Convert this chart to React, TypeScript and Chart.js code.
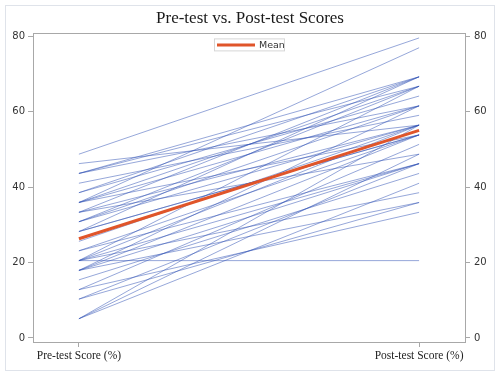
import React, { useEffect, useRef } from "react";
import { Chart, registerables } from "chart.js";

Chart.register(...registerables);

const chartTitle = "Pre-test vs. Post-test Scores";
const xLabels = ["Pre-test Score (%)", "Post-test Score (%)"];
const yTicks = [0, 20, 40, 60, 80];

const preScores = [
  48.7, 46.2, 43.6, 43.6, 43.6, 41.0, 38.5, 38.5, 35.9, 35.9, 35.9, 35.9,
  33.3, 33.3, 33.3, 30.8, 30.8, 30.8, 28.2, 28.2, 28.2, 25.6, 23.1, 23.1,
  20.5, 20.5, 20.5, 20.5, 20.5, 17.9, 17.9, 17.9, 17.9, 15.4, 12.8, 12.8,
  10.3, 10.3, 5.1, 5.1, 5.1,
];
const postScores = [
  79.5, 56.4, 69.2, 66.7, 61.5, 59.0, 69.2, 64.1, 76.9, 66.7, 61.5, 53.8,
  69.2, 56.4, 48.7, 66.7, 61.5, 56.4, 69.2, 53.8, 53.8, 56.4, 53.8, 46.2,
  20.5, 66.7, 56.4, 46.2, 38.5, 61.5, 53.8, 46.2, 35.9, 43.6, 51.3, 33.3,
  46.2, 35.9, 56.4, 48.7, 41.0,
];
const meanValues = [26.3, 55.0];

const frameAndLegend = {
  id: "frameAndLegend",
  beforeDraw(chart: any) {
    const ctx = chart.ctx;
    ctx.save();
    ctx.fillStyle = "#ffffff";
    ctx.fillRect(0, 0, chart.width, chart.height);
    ctx.strokeStyle = "#dfe3ea";
    ctx.lineWidth = 1;
    ctx.strokeRect(5.5, 5.5, 489, 365);
    ctx.restore();
  },
  afterDraw(chart: any) {
    const ctx = chart.ctx;
    const a = chart.chartArea;
    ctx.save();
    ctx.strokeStyle = "#a8a8a8";
    ctx.lineWidth = 1;
    ctx.strokeRect(Math.round(a.left) + 0.5, Math.round(a.top) + 0.5, Math.round(a.right - a.left), Math.round(a.bottom - a.top));
    const cx = (a.left + a.right) / 2;
    const bx = cx - 35;
    const by = a.top + 5;
    ctx.fillStyle = "#ffffff";
    ctx.fillRect(bx, by, 70, 12);
    ctx.strokeStyle = "#d6d6d6";
    ctx.strokeRect(bx + 0.5, by + 0.5, 70, 12);
    ctx.strokeStyle = "#e0552a";
    ctx.lineWidth = 3;
    ctx.beginPath();
    ctx.moveTo(bx + 3, by + 6.5);
    ctx.lineTo(bx + 41, by + 6.5);
    ctx.stroke();
    ctx.fillStyle = "#333333";
    ctx.font = "9.5px 'DejaVu Sans', sans-serif";
    ctx.textBaseline = "middle";
    ctx.textAlign = "left";
    ctx.fillText("Mean", bx + 45, by + 7);
    ctx.restore();
  },
};

export default function App() {
  const ref = useRef<HTMLCanvasElement>(null);
  useEffect(() => {
    document.body.style.margin = "0";
    const studentSets = preScores.map((p, i) => ({
      label: "Student " + (i + 1),
      data: [
        { x: 0, y: p },
        { x: 1, y: postScores[i] },
      ],
      borderColor: "rgba(45, 80, 180, 0.5)",
      borderWidth: 1,
      pointRadius: 0,
      fill: false,
      order: 2,
    }));
    const meanSet = {
      label: "Mean",
      data: [
        { x: 0, y: meanValues[0] },
        { x: 1, y: meanValues[1] },
      ],
      borderColor: "#e0552a",
      borderWidth: 3,
      pointRadius: 0,
      fill: false,
      order: 1,
    };
    const tickFont = { family: "'DejaVu Sans', sans-serif", size: 10 };
    const chart = new Chart(ref.current!, {
      type: "line",
      data: { datasets: [...studentSets, meanSet] as any },
      options: {
        animation: false,
        responsive: false,
        layout: { padding: { top: 8, left: 0, right: 0, bottom: 0 } },
        plugins: {
          legend: { display: false },
          tooltip: { enabled: false },
          title: {
            display: true,
            text: chartTitle,
            color: "#1a1a1a",
            font: { family: "'Liberation Serif', serif", size: 17, weight: "normal" },
            padding: { top: 0, bottom: 5 },
          },
        },
        scales: {
          x: {
            type: "linear",
            min: -0.135,
            max: 1.135,
            afterBuildTicks: (s: any) => {
              s.ticks = [{ value: 0 }, { value: 1 }];
            },
            afterFit: (s: any) => {
              s.height = 34;
            },
            ticks: {
              autoSkip: false,
              maxRotation: 0,
              padding: 2,
              color: "#222222",
              font: { family: "'Liberation Serif', serif", size: 11.5 },
              callback: (v: any) => (v === 0 ? xLabels[0] : v === 1 ? xLabels[1] : ""),
            },
            grid: { display: true, drawOnChartArea: false, drawTicks: true, tickLength: 5, color: "#a8a8a8" },
            border: { display: false },
          },
          y: {
            position: "left",
            min: -1.06,
            max: 80.7,
            afterBuildTicks: (s: any) => {
              s.ticks = yTicks.map((v) => ({ value: v }));
            },
            afterFit: (s: any) => {
              s.width = 33;
            },
            ticks: { padding: 3, color: "#333333", font: tickFont },
            grid: { display: true, drawOnChartArea: false, drawTicks: true, tickLength: 5, color: "#a8a8a8" },
            border: { display: false },
          },
          y2: {
            position: "right",
            min: -1.06,
            max: 80.7,
            afterBuildTicks: (s: any) => {
              s.ticks = yTicks.map((v) => ({ value: v }));
            },
            afterFit: (s: any) => {
              s.width = 35;
            },
            ticks: { padding: 4, color: "#333333", font: tickFont },
            grid: { display: true, drawOnChartArea: false, drawTicks: true, tickLength: 5, color: "#a8a8a8" },
            border: { display: false },
          },
        },
      } as any,
      plugins: [frameAndLegend],
    });
    return () => chart.destroy();
  }, []);
  return <canvas ref={ref} width={500} height={376} style={{ display: "block" }} />;
}
